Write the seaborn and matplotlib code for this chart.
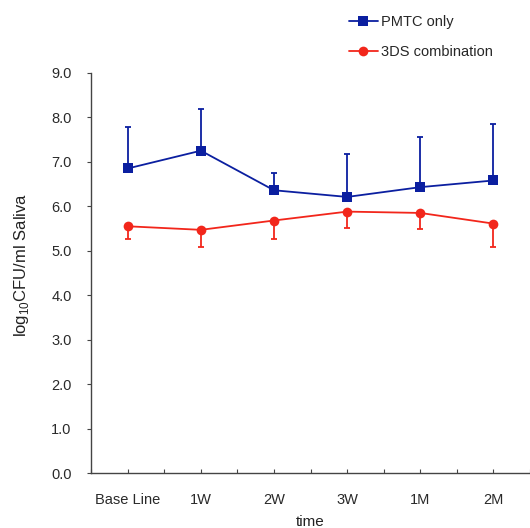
import numpy as np
import pandas as pd
import matplotlib
matplotlib.use("Agg")
import matplotlib.pyplot as plt
import seaborn as sns

# values
times = ["Base Line", "1W", "2W", "3W", "1M", "2M"]
pmtc_mean = [6.85, 7.25, 6.36, 6.21, 6.43, 6.58]
pmtc_sd = [0.94, 0.93, 0.39, 0.97, 1.13, 1.28]
combo_mean = [5.55, 5.47, 5.68, 5.88, 5.85, 5.61]
combo_sd = [0.28, 0.38, 0.42, 0.37, 0.36, 0.52]
groups = ["PMTC only", "3DS combination"]
colors = {"PMTC only": "#0b1fa0", "3DS combination": "#f2261b"}

pos = np.arange(len(times))
df = pd.concat([
    pd.DataFrame({"pos": pos, "value": pmtc_mean, "group": groups[0]}),
    pd.DataFrame({"pos": pos, "value": combo_mean, "group": groups[1]}),
])

sns.set_style("white")
plt.rcParams["font.family"] = ["Liberation Sans", "DejaVu Sans"]

fig = plt.figure(figsize=(5.3, 5.28), dpi=100)
ax = fig.add_axes([0.172, 0.104, 0.828, 0.758])

# one-sided error bars: up for PMTC, down for 3DS
ax.errorbar(pos, pmtc_mean, yerr=[np.zeros(len(pos)), pmtc_sd], fmt="none",
            ecolor=colors[groups[0]], elinewidth=1.3, capsize=2.5, capthick=1.3, zorder=2)
ax.errorbar(pos, combo_mean, yerr=[combo_sd, np.zeros(len(pos))], fmt="none",
            ecolor=colors[groups[1]], elinewidth=1.3, capsize=2.5, capthick=1.3, zorder=2)

sns.lineplot(data=df, x="pos", y="value", hue="group", style="group",
             markers={groups[0]: "s", groups[1]: "o"}, dashes=False,
             palette=colors, markersize=7, markeredgewidth=0, linewidth=1.3,
             ax=ax, zorder=3)

ax.set_xlim(-0.5, 5.5)
ax.set_ylim(0, 9)
ax.set_yticks(np.arange(0, 9.1, 1))
ax.set_yticklabels([f"{v:.1f}" for v in np.arange(0, 9.1, 1)])
ax.set_xticks(pos)
ax.set_xticks(np.arange(-0.5, 5.6, 1), minor=True)
ax.set_xticklabels(times)

for s in ["top", "right"]:
    ax.spines[s].set_visible(False)
for s in ["left", "bottom"]:
    ax.spines[s].set_color("#444444")
    ax.spines[s].set_linewidth(1.0)

ax.tick_params(axis="y", which="major", direction="out", length=3, width=0.8,
               color="#444444", labelsize=10.5, labelcolor="#2a2a2a", pad=11, left=True)
ax.tick_params(axis="x", which="both", direction="in", length=3, width=0.8,
               color="#444444", bottom=True)
ax.tick_params(axis="x", which="major", labelsize=10.5, labelcolor="#2a2a2a", pad=14)

ax.set_xlabel("time", fontsize=11, color="#222222", labelpad=6)
ax.set_ylabel(r"log$_{\mathregular{10}}$CFU/ml Saliva", fontsize=12, color="#222222")
ax.yaxis.set_label_coords(-0.138, 0.52)

handles, labels = ax.get_legend_handles_labels()
ax.legend_.remove()
fig.legend(handles, labels, loc="upper left", bbox_to_anchor=(0.633, 0.997),
           frameon=False, fontsize=10.5, handlelength=2.0, labelspacing=1.15,
           handletextpad=0.2)

fig.savefig("out.png", dpi=100)
